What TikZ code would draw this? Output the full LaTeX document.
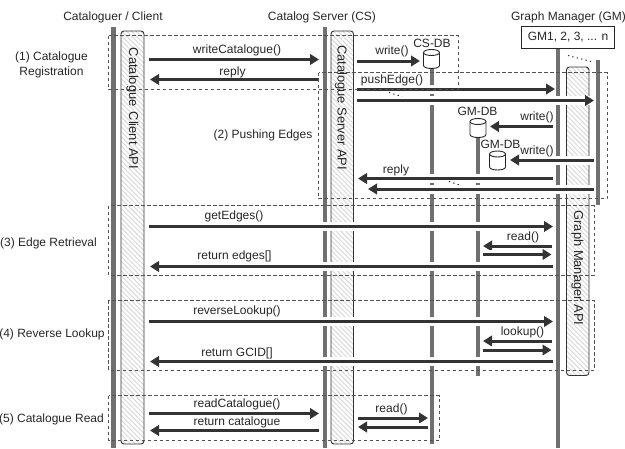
\documentclass[tikz,border=0pt]{standalone}
\usepackage{fontspec}
\setmainfont{Liberation Sans}
\usetikzlibrary{arrows.meta,patterns.meta}
\definecolor{ink}{HTML}{333333}
\definecolor{life}{HTML}{707070}
\definecolor{txt}{HTML}{262626}
\tikzset{
  x=1pt,y=-1pt,
  lifeline/.style={draw=life,line width=4.5pt},
  apibox/.style={draw=ink,line width=0.9pt,rounded corners=3pt,pattern={Lines[angle=-45,distance=3.4pt,line width=1.1pt]},pattern color=black!14},
  halo/.style={draw=white,line width=9pt},
  msg/.style={draw=ink,line width=3pt,-{Triangle[length=9pt,width=10.5pt]}},
  frame/.style={draw=ink!85,dashed,dash pattern=on 3.5pt off 2.5pt,line width=0.7pt},
  lab/.style={text=txt,font=\fontsize{12}{15}\selectfont,inner sep=0pt,align=center},
  apilab/.style={text=txt,font=\fontsize{12.9}{14}\selectfont,inner sep=0pt,rotate=-90},
  dbshape/.style={draw=black!85,fill=white,line width=0.9pt},
  dotsline/.style={draw=ink,line width=1pt,dash pattern=on 1.3pt off 3.2pt},
}
\newcommand{\Msg}[3]{%
  \coordinate (ms#3) at #1; \coordinate (me#3) at #2;
  \path[halo] (ms#3) -- (me#3);
  \path[msg] (ms#3) -- (me#3);}
\newcommand{\Cyl}[3]{% x, y of the top, name
  \coordinate (#3) at (#1,#2);
  \path[dbshape] ([xshift=-8pt,yshift=-3pt]#3) -- ([xshift=-8pt,yshift=-16pt]#3)
    arc[start angle=180,end angle=360,x radius=8pt,y radius=3pt]
    -- ([xshift=8pt,yshift=-3pt]#3)
    arc[start angle=0,end angle=180,x radius=8pt,y radius=3pt] -- cycle;
  \path[dbshape] ([xshift=-8pt,yshift=-3pt]#3)
    arc[start angle=180,end angle=360,x radius=8pt,y radius=3pt];}
\begin{document}
\begin{tikzpicture}
\useasboundingbox (0,0) rectangle (625,448);
% headers
\node[lab] (h1) at (113,17.5) {Cataloguer / Client};
\node[lab] (h2) at (322,17.5) {Catalog Server (CS)};
\node[lab] (h3) at (568.5,17.5) {Graph Manager (GM)};
% lifelines
\coordinate (l1a) at (113.5,27); \coordinate (l1b) at (113.5,448);
\coordinate (l2a) at (325,27); \coordinate (l2b) at (325,448);
\coordinate (l3a) at (432,66); \coordinate (l3b) at (432,444);
\coordinate (l4a) at (478,135); \coordinate (l4b) at (478,375.5);
\coordinate (l5a) at (558,46); \coordinate (l5b) at (558,448);
\coordinate (l6a) at (598,60); \coordinate (l6b) at (598,204.5);
\draw[lifeline] (l1a) -- (l1b);
\draw[lifeline] (l2a) -- (l2b);
\draw[lifeline] (l3a) -- (l3b);
\draw[lifeline] (l4a) -- (l4b);
\draw[lifeline] (l5a) -- (l5b);
\draw[lifeline] (l6a) -- (l6b);
% API boxes
\path[apibox] (121,31) rectangle (144,444);
\path[apibox] (331,31) rectangle (353.5,444);
\path[apibox] (566.5,67) rectangle (589,375.5);
% messages
\Msg{(149,59.5)}{(319,59.5)}{a}
\Msg{(319,79.5)}{(150,79.5)}{b}
\Msg{(357,61)}{(420,61)}{c}
\Msg{(357,89)}{(555,89)}{d}
\Msg{(357,100.5)}{(594,100.5)}{e}
\Msg{(553,126.5)}{(490,126.5)}{f}
\Msg{(594,160)}{(510,160)}{g}
\Msg{(553,178.5)}{(358,178.5)}{h}
\Msg{(594,189)}{(368,189)}{i}
\Msg{(149,226.5)}{(553,226.5)}{j}
\Msg{(552,246)}{(483,246)}{k}
\Msg{(483,254.5)}{(551.5,254.5)}{l}
\Msg{(553,266.5)}{(150,266.5)}{m}
\Msg{(149,321.5)}{(553,321.5)}{n}
\Msg{(552,341)}{(483,341)}{o}
\Msg{(483,350)}{(551.5,350)}{p}
\Msg{(553,361.5)}{(150,361.5)}{q}
\Msg{(149,413.5)}{(319,413.5)}{r}
\Msg{(319,430.5)}{(150,430.5)}{s}
\Msg{(358,418)}{(428,418)}{t}
\Msg{(428,427)}{(358,427)}{u}
% databases
\Cyl{431.5}{49.5}{db1}
\Cyl{478}{118.5}{db2}
\Cyl{497.5}{151}{db3}
% frames
\path[frame] (108.5,35.5) rectangle (458,89.5);
\path[frame] (318.5,72.5) rectangle (607,198.5);
\path[frame] (108.5,205.5) rectangle (594,275);
\path[frame] (108.5,300) rectangle (594,370);
\path[frame] (108.5,395.5) rectangle (439,440.5);
% GM box
\node[draw=black!85,fill=white,line width=0.9pt,minimum width=93pt,minimum height=21.5pt,inner sep=0pt,text=txt,font=\fontsize{12}{14}\selectfont] (gm) at (568,37.5) {GM1, 2, 3, ... n};
% dots
\coordinate (d1a) at (568,55.5); \coordinate (d1b) at (591,61.5);
\coordinate (d2a) at (389,92.5); \coordinate (d2b) at (402,96.5);
\coordinate (d3a) at (449,181.5); \coordinate (d3b) at (461,185.5);
\path[dotsline] (d1a) -- (d1b);
\path[dotsline] (d2a) -- (d2b);
\path[dotsline] (d3a) -- (d3b);
% API labels
\node[apilab] (a1) at (132.5,108.5) {Catalogue\hspace{1.5pt} Client API};
\node[apilab] (a2) at (341,107.5) {Catalogue Server API};
\node[apilab] (a3) at (577.5,268) {Graph Manager API};
% message labels
\node[lab] (t1) at (237,50) {writeCatalogue()};
\node[lab] (t2) at (232.5,72) {reply};
\node[lab] (t3) at (392,51) {write()};
\node[lab] (t4) at (392,80) {pushEdge()};
\node[lab] (t5) at (537,117) {write()};
\node[lab] (t6) at (537,151) {write()};
\node[lab] (t7) at (396,170) {reply};
\node[lab] (t8) at (234,216.5) {getEdges()};
\node[lab] (t9) at (523,237) {read()};
\node[lab] (t10) at (234.5,256) {return edges[]};
\node[lab] (t11) at (237,311) {reverseLookup()};
\node[lab] (t12) at (522.5,332) {lookup()};
\node[lab] (t13) at (237,353) {return GCID[]};
\node[lab] (t14) at (237,404) {readCatalogue()};
\node[lab] (t15) at (237,422) {return catalogue};
\node[lab] (t16) at (391.5,409) {read()};
\node[lab] (d1) at (432,43) {CS-DB};
\node[lab] (d2) at (477.5,111) {GM-DB};
\node[lab] (d3) at (500.5,144) {GM-DB};
% phase labels
\node[lab] (p1) at (51.5,65) {(1) Catalogue\\Registration};
\node[lab] (p2) at (263,135) {(2) Pushing Edges};
\node[lab] (p3) at (48.5,243) {(3) Edge Retrieval};
\node[lab] (p4) at (52,334) {(4) Reverse Lookup};
\node[lab] (p5) at (51.5,419) {(5) Catalogue Read};
\end{tikzpicture}
\end{document}
